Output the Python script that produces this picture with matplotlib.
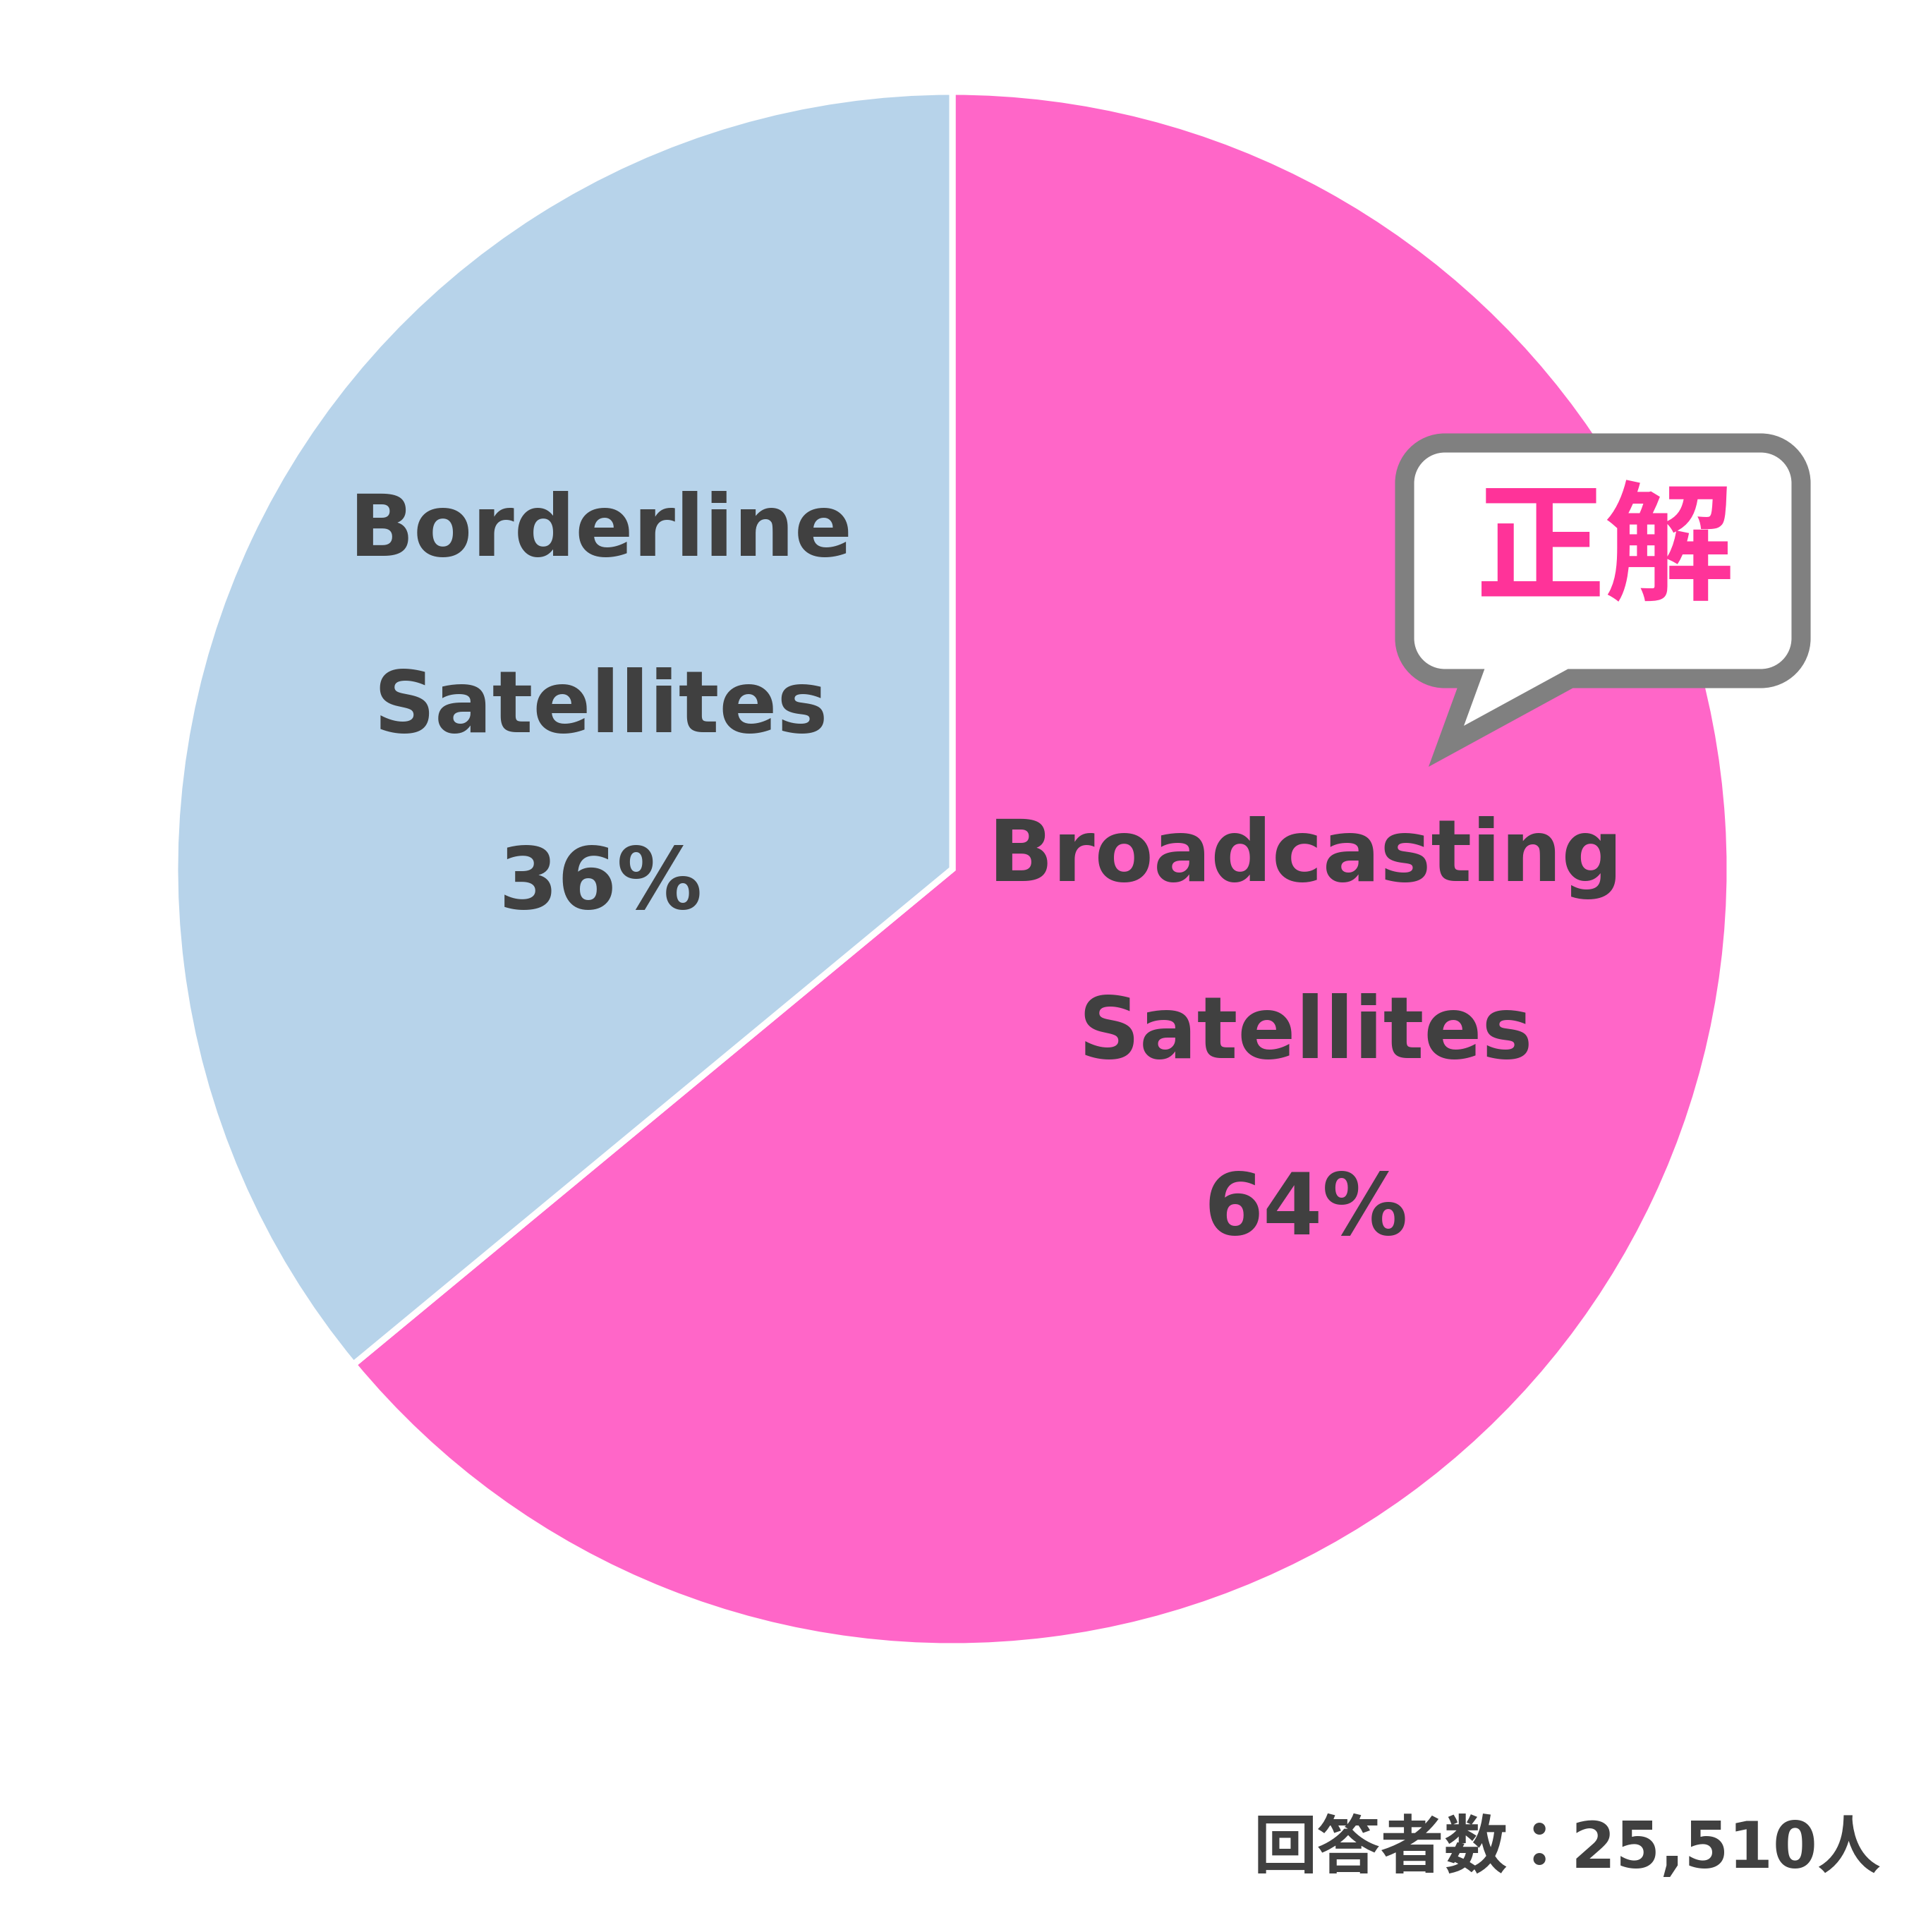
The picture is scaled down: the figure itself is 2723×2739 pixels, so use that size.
import matplotlib
matplotlib.use("Agg")
import matplotlib.pyplot as plt
from matplotlib.path import Path
from matplotlib.patches import PathPatch

categories = ["Broadcasting\n\nSatellites", "Borderline\n\nSatellites"]
values = [64, 36]
colors = ["#FF66C8", "#B7D3EA"]
answer_text = "正解"
footnote = "回答者数：25,510人"

W, H = 2723, 2739
fig = plt.figure(figsize=(W / 100, H / 100), dpi=100)
ax = fig.add_axes([0, 0, 1, 1])

cx, cy, r = 1350, 1232, 1102
ax.pie(values, colors=colors, startangle=-90, counterclock=True,
       center=(cx, cy), radius=r, frame=True,
       wedgeprops=dict(edgecolor="white", linewidth=6.5))
ax.set_xlim(0, W)
ax.set_ylim(H, 0)
ax.set_aspect("equal")
ax.axis("off")

txt_color = "#404040"
label_pos = [(1851, 1466), (852, 1004)]
for lab, v, (x, y) in zip(categories, values, label_pos):
    name1, name2 = lab.split("\n\n")
    for i, t in enumerate([name1, name2, f"{v}%"]):
        ax.text(x, y + (i - 1) * 250, t, ha="center", va="center",
                fontsize=87, fontweight="bold", color=txt_color,
                family=["DejaVu Sans"])

# speech bubble (single path incl. tail)
x0, x1, y0, y1 = 1991, 2553, 628, 962
rr = 57
k = 0.5523 * rr
verts = [
    (x0 + rr, y0),
    (x1 - rr, y0),
    (x1 - rr + k, y0), (x1, y0 + rr - k), (x1, y0 + rr),
    (x1, y1 - rr),
    (x1, y1 - rr + k), (x1 - rr + k, y1), (x1 - rr, y1),
    (2226, y1),
    (2050, 1058),
    (2085, y1),
    (x0 + rr, y1),
    (x0 + rr - k, y1), (x0, y1 - rr + k), (x0, y1 - rr),
    (x0, y0 + rr),
    (x0, y0 + rr - k), (x0 + rr - k, y0), (x0 + rr, y0),
    (x0 + rr, y0),
]
codes = [Path.MOVETO, Path.LINETO,
         Path.CURVE4, Path.CURVE4, Path.CURVE4,
         Path.LINETO,
         Path.CURVE4, Path.CURVE4, Path.CURVE4,
         Path.LINETO, Path.LINETO, Path.LINETO, Path.LINETO,
         Path.CURVE4, Path.CURVE4, Path.CURVE4,
         Path.LINETO,
         Path.CURVE4, Path.CURVE4, Path.CURVE4,
         Path.CLOSEPOLY]
bubble = PathPatch(Path(verts, codes), facecolor="white", edgecolor="#808080",
                   linewidth=19.5, joinstyle="miter", zorder=5)
ax.add_patch(bubble)

ax.text(2275, 783, answer_text, ha="center", va="center", fontsize=132,
        fontweight="bold", color="#FF3399",
        family=["Noto Sans CJK JP", "DejaVu Sans"], zorder=8)

ax.text(2667, 2622, footnote, ha="right", va="center", fontsize=65,
        fontweight="bold", color=txt_color,
        family=["DejaVu Sans", "Noto Sans CJK JP"])

fig.savefig("out.png", dpi=100, facecolor="white")
